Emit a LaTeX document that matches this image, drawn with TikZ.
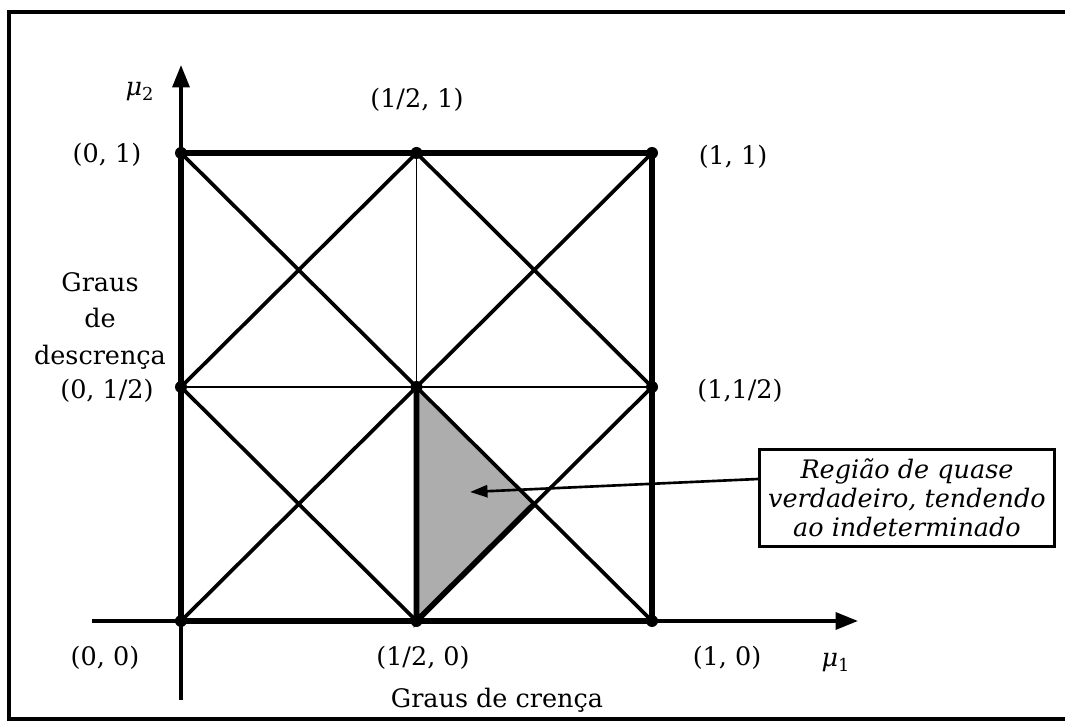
\documentclass[tikz,border=0pt]{standalone}
\usepackage{fontspec}
\setmainfont{DejaVu Serif}
\usetikzlibrary{arrows.meta, positioning, calc}

\begin{document}
\begin{tikzpicture}[
    every node/.style={font=\fontsize{14.5}{17}\selectfont},
    thickline/.style={line width=3.2pt},
    diagline/.style={line width=2.1pt},
    thinline/.style={line width=0.7pt},
    axisline/.style={line width=2pt, -{Triangle[length=0.45cm, width=0.34cm]}},
    dot/.style={circle, fill, inner sep=0pt, minimum size=0.24cm},
    lbl/.style={inner sep=1pt}
  ]
  \useasboundingbox (0,0) rectangle (21.3,14.44);
  % frame
  \draw[line width=2pt] (21.4,14.2) -- (0.18,14.2) -- (0.18,0.06) -- (21.4,0.06);

  % axes
  \coordinate (xa) at (1.84,2.02);
  \coordinate (xb) at (17.16,2.02);
  \coordinate (ya) at (3.62,0.44);
  \coordinate (yb) at (3.62,13.14);
  \draw[axisline] (xa) -- (xb);
  \draw[axisline] (ya) -- (yb);

  \begin{scope}[shift={(3.62,2.02)}, x=9.42cm, y=9.36cm]
    \coordinate (o) at (0,0);
    \coordinate (b) at (0.5,0);
    \coordinate (c) at (1,0);
    \coordinate (d) at (0,0.5);
    \coordinate (m) at (0.5,0.5);
    \coordinate (e) at (1,0.5);
    \coordinate (f) at (0,1);
    \coordinate (g) at (0.5,1);
    \coordinate (h) at (1,1);
    \coordinate (q) at (0.75,0.25);
  \end{scope}

  % shaded region
  \fill[black!32] (m) -- (b) -- (q) -- cycle;

  \draw[thinline] (d) -- (e);
  \draw[thinline] (g) -- (m);
  \draw[diagline] (f) -- (c);
  \draw[diagline] (h) -- (o);
  \draw[diagline] (g) -- (d) -- (b) -- (e) -- cycle;
  \draw[thickline] (o) -- (f) -- (h) -- (c) -- cycle;
  \draw[thickline] (m) -- (b) -- (q);

  \foreach \p in {o,b,c,d,m,e,f,g,h}
    \node[dot] (dot-\p) at (\p) {};

  % labels
  \node[lbl] (mu2) at (2.8,12.6) {{\itshape μ}\textsubscript{2}};
  \node[lbl] (mu1) at (16.72,1.18) {{\itshape μ}\textsubscript{1}};
  \node[lbl] (lf) at (2.14,11.34) {(0, 1)};
  \node[lbl] (lg) at (8.34,12.44) {(1/2, 1)};
  \node[lbl] (lh) at (14.66,11.3) {(1, 1)};
  \node[lbl, align=center, font=\fontsize{14.5}{21}\selectfont] (desc) at (2.0,8.02) {Graus\\de\\descrença};
  \node[lbl] (ld) at (2.14,6.62) {(0, 1/2)};
  \node[lbl] (le) at (14.8,6.62) {(1,1/2)};
  \node[lbl] (lo) at (2.1,1.28) {(0, 0)};
  \node[lbl] (lb) at (8.46,1.28) {(1/2, 0)};
  \node[lbl] (lc) at (14.54,1.28) {(1, 0)};
  \node[lbl] (cren) at (9.94,0.44) {Graus de crença};

  \node[draw, line width=1.4pt, align=center, minimum width=5.9cm, minimum height=1.94cm,
        inner sep=2pt, font=\itshape\fontsize{14.5}{16.5}\selectfont] (region) at (18.14,4.48)
    {Região de quase\\verdadeiro, tendendo\\ao indeterminado};
  \coordinate (tip) at (9.4,4.6);
  \draw[line width=1.5pt, -{Triangle[length=0.35cm, width=0.24cm]}] ([yshift=0.38cm]region.west) -- (tip);
\end{tikzpicture}
\end{document}
